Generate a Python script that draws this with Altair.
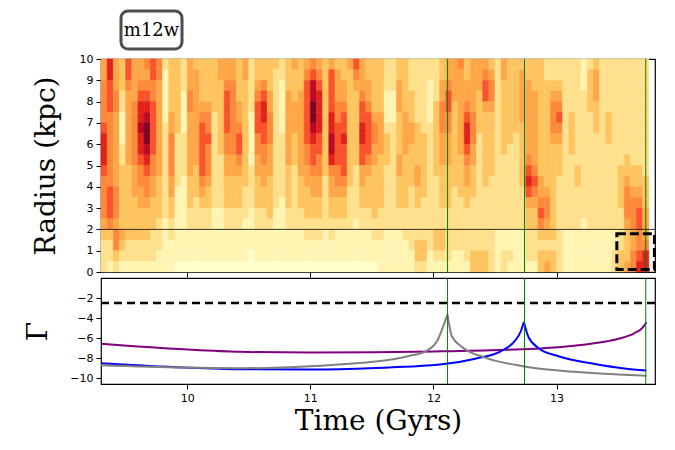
import altair as alt
import pandas as pd

# ---------------- data ----------------
panel_label = "m12w"

# heat map: one 20-digit string per time bin (0.05 Gyr), top (r=10) to bottom (r=0), 0.5 kpc rows
t_start = 9.30
t_step = 0.05
r_top = 10.0
r_step = 0.5

heat_a = [
    "44555567776555543222", "77666555555566653221", "44455444444455545532",
    "33322111223333334321", "66544444443333333221", "44445555554443333221",
    "44567787765544333221", "54567899876554333221", "66556666655443332221",
    "55444444444333322211", "21111122222222211111", "33333445555443322111",
    "33333332222211111110", "22211112222111111110", "44455444444333221110",
    "34444444443332221110", "33334566666543221110", "33334556555433221110",
    "33333222222222111110", "44333333322222111110", "44566665544333221110",
    "44555555544333221110", "33334456654333221110",
]
heat_b = [
    "44333333333322211110", "22222111112222111100", "33456665544333221110",
    "33567766554433221110", "33344555444333321110", "32222222222222111110",
    "22111112222221111110", "33344444443333221110", "43334443332222221110",
    "33344444444333221110", "45666666554433322110", "56889987665443322110",
    "45677776655443322110", "33333333333222221110", "46666778875443322110",
    "34445566665543321110", "33445667666543321110", "43333333333322221110",
    "65433333332222211110", "44456677664433221110", "33445666654333221110",
    "33333455443333322110",
]
heat_c = [
    "33333444433333222111", "22211123332222221111", "22211122222222221111",
    "33444333344333221111", "33333444433333222111", "22233344333322222211",
    "22222233334433222332", "22222223333332222332", "22111122222222222211",
    "22223333333222223321", "33445554443333223321", "44566554443333222221",
    "44443333333322222211", "54444444433332222211", "33445677654433222221",
    "44444555443332222233", "44433332222222222233", "45664333333322222233",
    "34554333333222222222", "22222222222222221111", "44333333322222221122",
    "33333333222222221121",
]
heat_d = [
    "33333332222222221111", "34444433333322221111", "33444444456764332221",
    "33344444445654332221", "33333333333445653233", "22333333333345543234",
    "22345554333333333233", "22345654333222222222", "22222222222222221111",
    "22222333322222221111", "22222222223322221111", "11122222222222211111",
    "23333222222222221111", "34443332222222221111", "22222222222222221111",
    "22222333222222221111", "22222222222222221122", "22222222223333222233",
    "22222222233455543334", "22222222223345554455", "22222222223345665567",
    "22222222222333444577",
]
heat_levels = list(range(10))
heat_colors = ["#ffffcc", "#fff4b2", "#fee08d", "#fec460", "#fea748", "#fd893b",
               "#f9532b", "#e3211c", "#bb0a24", "#800026"]

# Gamma curves (Time in Gyr, Gamma)
purple_t = [9.30, 9.54, 9.97, 10.43, 11.00, 11.52, 12.06, 12.60, 12.87, 13.14, 13.41, 13.52, 13.63, 13.70, 13.73]
purple_g = [-6.55, -6.78, -7.10, -7.35, -7.42, -7.40, -7.30, -7.15, -7.02, -6.75, -6.30, -6.00, -5.50, -4.95, -4.40]

gray_t = [9.30, 9.97, 10.43, 11.00, 11.45, 11.53, 11.80, 11.94, 12.03, 12.08, 12.115, 12.15, 12.23, 12.42, 12.74, 13.15, 13.73]
gray_g = [-8.68, -8.92, -8.98, -8.78, -8.40, -8.32, -7.77, -7.27, -6.28, -4.80, -3.64, -5.80, -6.84, -7.93, -8.80, -9.34, -9.73]

blue_t = [9.30, 9.97, 10.43, 11.00, 11.53, 12.07, 12.34, 12.55, 12.66, 12.71, 12.735, 12.77, 12.85, 13.01, 13.28, 13.55, 13.73]
blue_g = [-8.48, -8.90, -9.07, -9.10, -8.95, -8.59, -8.03, -7.27, -6.28, -5.30, -4.37, -5.80, -6.94, -7.77, -8.49, -9.01, -9.20]

event_t = [12.115, 12.74, 13.725]
radius_line = 2.0
gamma_threshold = -2.5
box_t = [13.49, 13.795]
box_r = [0.12, 1.80]

x_domain = [9.3, 13.8]
x_ticks = [10, 11, 12, 13]
r_ticks = list(range(11))
g_domain = [-10.55, 0]
g_ticks = [-10, -8, -6, -4, -2]

# ---------------- tables ----------------
cols = heat_a + heat_b + heat_c + heat_d
recs = []
for i, s in enumerate(cols):
    t0 = t_start + i * t_step
    for k, ch in enumerate(s):
        r1 = r_top - k * r_step
        recs.append(dict(t0=t0, t1=t0 + t_step, r0=r1 - r_step, r1=r1, v=int(ch)))
heat_df = pd.DataFrame(recs)


def branches(ts, gs):
    pk = gs.index(max(gs))
    rows = []
    for j in range(pk + 1):
        rows.append(dict(t=ts[j], g=gs[j], b="rise"))
    for j in range(pk, len(ts)):
        rows.append(dict(t=ts[j], g=gs[j], b="fall"))
    return pd.DataFrame(rows)


purple_df = pd.DataFrame(dict(t=purple_t, g=purple_g, b="all"))
gray_df = branches(gray_t, gray_g)
blue_df = branches(blue_t, blue_g)

xs = alt.Scale(domain=x_domain, nice=False, zero=False)
W = 554

# ---------------- top panel ----------------
cscale = alt.Scale(domain=heat_levels, range=heat_colors)
r_scale = alt.Scale(domain=[0, 10], nice=False, zero=False)
heat = alt.Chart(heat_df).mark_rect(strokeWidth=0.5).encode(
    x=alt.X("t0:Q", scale=xs,
            axis=alt.Axis(values=x_ticks, tickCount=len(x_ticks), labels=False, title=None)),
    x2="t1:Q",
    y=alt.Y("r0:Q", scale=r_scale,
            axis=alt.Axis(values=r_ticks, tickCount=len(r_ticks), format="d",
                          title="Radius (kpc)", titlePadding=19, labelOverlap=False)),
    y2="r1:Q",
    color=alt.Color("v:Q", scale=cscale, legend=None),
    stroke=alt.Stroke("v:Q", scale=cscale, legend=None),
)

rline = alt.Chart(pd.DataFrame({"r": [radius_line]})).mark_rule(
    color="black", strokeWidth=0.8).encode(y="r:Q")

vl_top = alt.Chart(pd.DataFrame({"t": event_t})).mark_rule(
    color="green", strokeWidth=1).encode(x="t:Q")

box = alt.Chart(pd.DataFrame({"t0": [box_t[0]], "t1": [box_t[1]],
                              "r0": [box_r[0]], "r1": [box_r[1]]})).mark_rect(
    fillOpacity=0, stroke="black", strokeWidth=3, strokeDash=[9, 4]).encode(
    x="t0:Q", x2="t1:Q", y="r0:Q", y2="r1:Q")

lab_df = pd.DataFrame({"label": [panel_label]})
lab_box = alt.Chart(lab_df).mark_rect(
    fill="white", stroke="#4d4d4d", strokeWidth=3, cornerRadius=7).encode(
    x=alt.value(20), x2=alt.value(81), y=alt.value(-48), y2=alt.value(-10))
lab_txt = alt.Chart(lab_df).mark_text(
    font="DejaVu Serif", fontSize=18, color="black", align="center", baseline="middle").encode(
    x=alt.value(50.5), y=alt.value(-28), text="label:N")

top = alt.layer(heat, rline, vl_top, box, lab_box, lab_txt).properties(width=W, height=213)

# ---------------- bottom panel ----------------
g_scale = alt.Scale(domain=g_domain, nice=False, zero=False)
bottom_axis = alt.Axis(values=x_ticks, tickCount=len(x_ticks), format="d",
                       title="Time (Gyrs)", titlePadding=4, labelOverlap=False)
g_axis = alt.Axis(values=g_ticks, tickCount=len(g_ticks), title="Γ",
                  titlePadding=17, labelOverlap=False)


def curve(df, color, first=False):
    if first:
        xe = alt.X("t:Q", scale=xs, axis=bottom_axis)
        ye = alt.Y("g:Q", scale=g_scale, axis=g_axis)
    else:
        xe = alt.X("t:Q")
        ye = alt.Y("g:Q")
    return alt.Chart(df).mark_line(color=color, strokeWidth=2, interpolate="monotone").encode(
        x=xe, y=ye, detail="b:N")


thr = alt.Chart(pd.DataFrame({"g": [gamma_threshold]})).mark_rule(
    color="black", strokeWidth=2.5, strokeDash=[8, 5]).encode(y="g:Q")
vl_bot = alt.Chart(pd.DataFrame({"t": event_t})).mark_rule(
    color="green", strokeWidth=1).encode(x="t:Q")

bottom = alt.layer(
    curve(purple_df, "purple", first=True),
    curve(blue_df, "blue"),
    curve(gray_df, "gray"),
    thr, vl_bot,
).properties(width=W, height=106)

chart = alt.vconcat(top, bottom, spacing=6, bounds="flush").properties(
    padding={"left": 16, "top": 0, "right": 5, "bottom": 2}
).configure_view(
    stroke="black", strokeWidth=1.2
).configure_axis(
    labelFont="DejaVu Sans", labelFontSize=11, labelColor="black",
    tickColor="black", tickSize=5, tickWidth=1, domain=False, grid=False,
    titleFont="DejaVu Serif", titleFontSize=28, titleFontWeight="normal", titleColor="black",
    labelPadding=3, labelOverlap=False,
)

chart.save("out.html", embed_options={"renderer": "svg", "actions": False})
